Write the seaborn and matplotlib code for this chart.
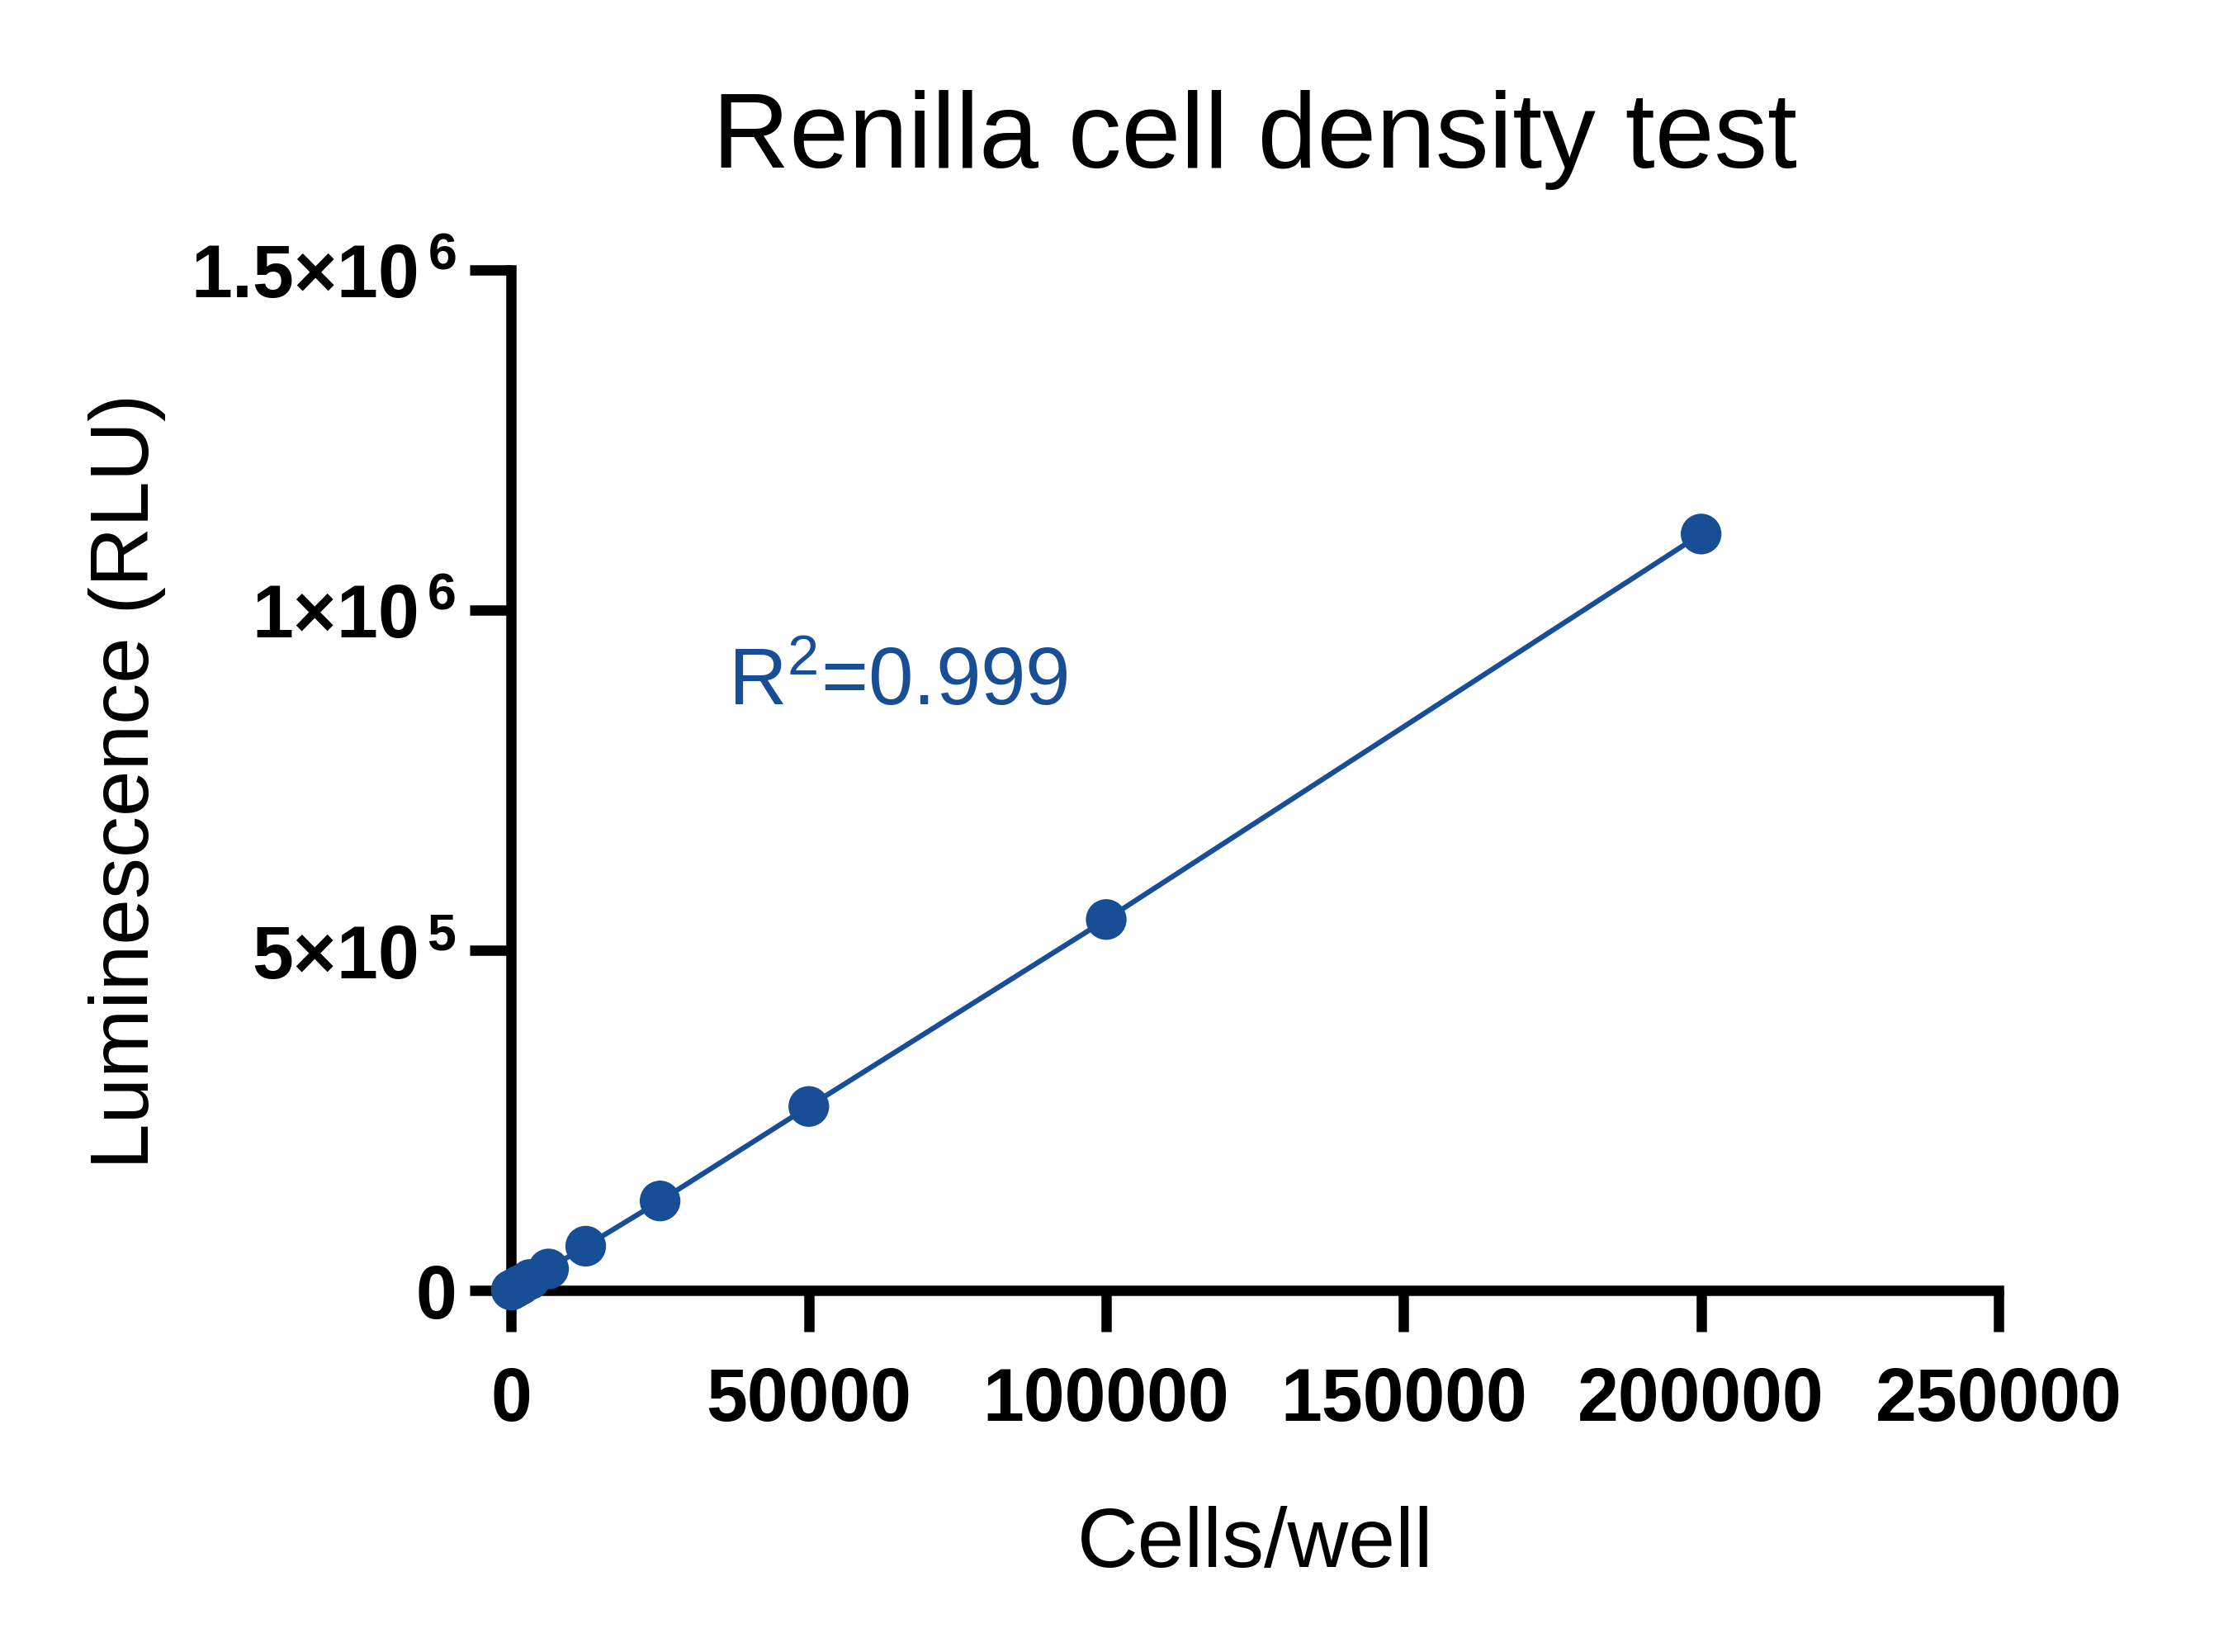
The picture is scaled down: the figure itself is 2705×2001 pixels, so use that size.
import matplotlib
matplotlib.use('Agg')
import matplotlib.pyplot as plt
import seaborn as sns
import pandas as pd

cells = [0, 781, 1562, 3125, 6250, 12500, 25000, 50000, 100000, 200000]
rlu = [0, 3800, 7600, 15500, 31000, 64500, 131000, 270000, 545000, 1112000]
x_ticks = [0, 50000, 100000, 150000, 200000, 250000]
y_ticks = [0, 500000, 1000000, 1500000]
y_tick_labels = ['0', r'$\mathbf{5{\times}10^{\,5}}$', r'$\mathbf{1{\times}10^{\,6}}$', r'$\mathbf{1.5{\times}10^{\,6}}$']

blue = '#184E96'

sns.set_style('ticks')
plt.rcParams['font.family'] = ['Liberation Sans', 'DejaVu Sans']
plt.rcParams['mathtext.fontset'] = 'custom'
plt.rcParams['mathtext.rm'] = 'Liberation Sans'
plt.rcParams['mathtext.bf'] = 'Liberation Sans:bold'
plt.rcParams['mathtext.default'] = 'regular'
plt.rcParams['text.color'] = 'black'
plt.rcParams['axes.labelcolor'] = 'black'
plt.rcParams['axes.edgecolor'] = 'black'
plt.rcParams['xtick.color'] = 'black'
plt.rcParams['ytick.color'] = 'black'

data = pd.DataFrame({'Cells': cells, 'RLU': rlu})

fig = plt.figure(figsize=(2705 / 300, 2002 / 300), dpi=300)
ax = fig.add_axes([0.229, 0.219, 0.666, 0.617])

sns.lineplot(data=data, x='Cells', y='RLU', color=blue, linewidth=1.5, ax=ax)
sns.scatterplot(data=data, x='Cells', y='RLU', color=blue, s=140, edgecolor='none', ax=ax, zorder=3, clip_on=False)

ax.set_xlim(0, 250000)
ax.set_ylim(0, 1500000)
ax.set_xticks(x_ticks)
ax.set_xticklabels([str(t) for t in x_ticks], fontsize=21.5, fontweight='bold')
ax.set_yticks(y_ticks)
ax.set_yticklabels(y_tick_labels, fontsize=21.5, fontweight='bold')

sns.despine(ax=ax)
for s in ['left', 'bottom']:
    ax.spines[s].set_linewidth(3)
ax.tick_params(axis='both', width=3, length=12)
ax.tick_params(axis='x', pad=10)
ax.tick_params(axis='y', pad=4)

ax.set_xlabel('Cells/well', fontsize=24.5, labelpad=20)
ax.set_ylabel('Luminescence (RLU)', fontsize=24, labelpad=7)
ax.set_title('Renilla cell density test', fontsize=31, pad=30)

ax.text(36500, 862000, r'R$^2$=0.999', color=blue, fontsize=23.5, ha='left', va='baseline')

fig.savefig('out.png', dpi=300)
